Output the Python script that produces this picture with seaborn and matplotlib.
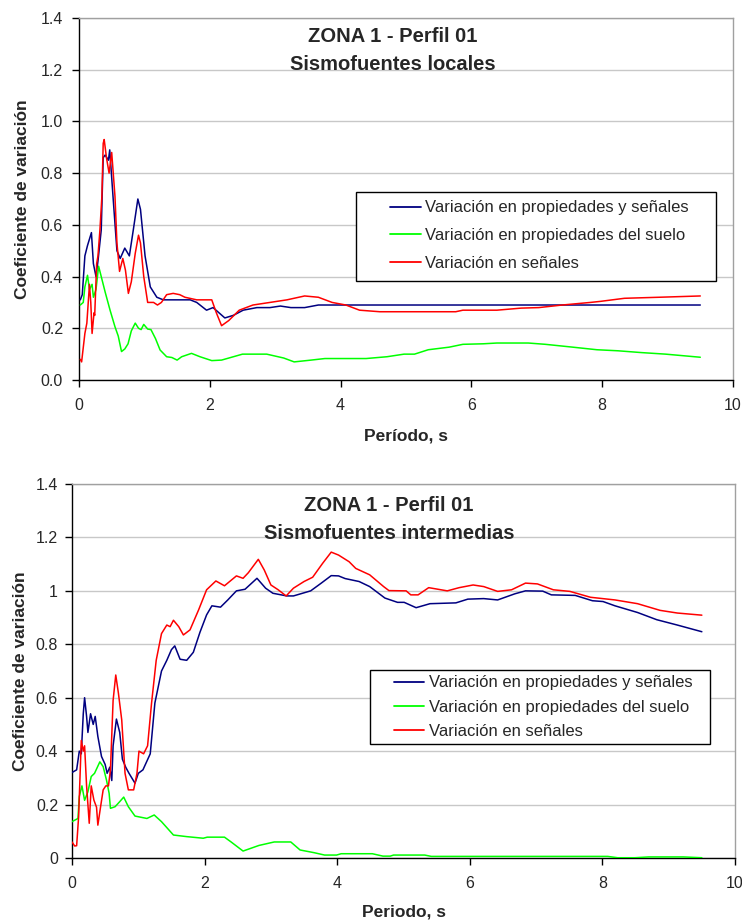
import numpy as np
import pandas as pd
import matplotlib
matplotlib.use("Agg")
import matplotlib.pyplot as plt
from matplotlib.patches import Rectangle
import seaborn as sns

# ---------------- data: top chart (Sismofuentes locales) ----------------
top_blue_t = [0.02, 0.05, 0.09, 0.13, 0.19, 0.22, 0.26, 0.29, 0.34, 0.37, 0.40, 0.45, 0.47, 0.52,
              0.58, 0.63, 0.70, 0.77, 0.83, 0.90, 0.94, 1.01, 1.09, 1.19, 1.29, 1.49, 1.70, 1.80,
              1.90, 1.95, 2.05, 2.23, 2.36, 2.51, 2.72, 2.92, 3.08, 3.24, 3.45, 3.66, 9.5]
top_blue_v = [0.31, 0.33, 0.48, 0.52, 0.57, 0.45, 0.40, 0.46, 0.58, 0.86, 0.87, 0.85, 0.89, 0.71,
              0.50, 0.47, 0.51, 0.48, 0.58, 0.70, 0.66, 0.48, 0.36, 0.32, 0.31, 0.31, 0.31, 0.30,
              0.28, 0.27, 0.28, 0.24, 0.25, 0.27, 0.28, 0.28, 0.286, 0.28, 0.28, 0.29, 0.29]

top_green_t = [0.02, 0.065, 0.09, 0.13, 0.16, 0.20, 0.22, 0.26, 0.30, 0.35, 0.40, 0.475, 0.55, 0.60,
               0.65, 0.70, 0.75, 0.80, 0.86, 0.91, 0.95, 0.99, 1.05, 1.10, 1.17, 1.24, 1.34, 1.42,
               1.50, 1.57, 1.72, 1.85, 2.03, 2.18, 2.50, 2.87, 3.13, 3.29, 3.55, 3.76, 4.39, 4.71,
               4.97, 5.13, 5.34, 5.66, 5.87, 6.18, 6.39, 6.87, 7.13, 7.55, 7.92, 8.24, 8.6, 8.97, 9.5]
top_green_v = [0.29, 0.30, 0.36, 0.405, 0.35, 0.37, 0.32, 0.35, 0.44, 0.39, 0.34, 0.27, 0.206, 0.17,
               0.11, 0.12, 0.14, 0.19, 0.22, 0.20, 0.195, 0.215, 0.197, 0.195, 0.16, 0.116, 0.09, 0.087,
               0.077, 0.09, 0.103, 0.09, 0.075, 0.077, 0.10, 0.10, 0.085, 0.07, 0.077, 0.083, 0.083, 0.09,
               0.10, 0.10, 0.117, 0.127, 0.138, 0.14, 0.143, 0.143, 0.138, 0.127, 0.117, 0.113, 0.106, 0.10, 0.088]

top_red_t = [0.02, 0.04, 0.09, 0.12, 0.16, 0.18, 0.20, 0.23, 0.24, 0.27, 0.29, 0.32, 0.35, 0.37,
             0.385, 0.42, 0.46, 0.50, 0.55, 0.58, 0.62, 0.67, 0.71, 0.755, 0.80, 0.86, 0.91, 0.94,
             0.99, 1.05, 1.14, 1.20, 1.26, 1.34, 1.44, 1.54, 1.62, 1.80, 2.03, 2.10, 2.18, 2.29,
             2.45, 2.66, 2.92, 3.18, 3.45, 3.66, 3.87, 4.08, 4.29, 4.6, 5.76, 5.87, 6.39, 6.76,
             7.03, 7.39, 7.82, 7.97, 8.34, 8.87, 9.5]
top_red_v = [0.08, 0.07, 0.18, 0.22, 0.37, 0.30, 0.18, 0.26, 0.25, 0.45, 0.48, 0.58, 0.71, 0.915,
             0.93, 0.86, 0.80, 0.88, 0.71, 0.53, 0.42, 0.47, 0.425, 0.335, 0.38, 0.49, 0.56, 0.53,
             0.40, 0.30, 0.30, 0.29, 0.30, 0.33, 0.335, 0.33, 0.32, 0.31, 0.31, 0.26, 0.21, 0.23,
             0.27, 0.29, 0.30, 0.31, 0.325, 0.32, 0.30, 0.29, 0.27, 0.264, 0.264, 0.27, 0.27, 0.278,
             0.28, 0.29, 0.30, 0.304, 0.316, 0.32, 0.325]

# ---------------- data: bottom chart (Sismofuentes intermedias) ----------------
bot_blue_t = [0.0, 0.07, 0.11, 0.14, 0.17, 0.19, 0.22, 0.24, 0.28, 0.32, 0.35, 0.39, 0.445, 0.50,
              0.53, 0.57, 0.60, 0.62, 0.67, 0.72, 0.76, 0.81, 0.86, 0.95, 1.00, 1.07, 1.18, 1.25,
              1.35, 1.43, 1.50, 1.55, 1.63, 1.73, 1.83, 1.93, 2.03, 2.11, 2.24, 2.35, 2.48, 2.61,
              2.79, 2.92, 3.03, 3.24, 3.34, 3.6, 3.76, 3.91, 4.02, 4.12, 4.33, 4.49, 4.72, 4.91,
              5.01, 5.19, 5.4, 5.79, 5.97, 6.21, 6.42, 6.68, 6.84, 7.1, 7.23, 7.59, 7.85, 8.01,
              8.19, 8.53, 8.82, 9.13, 9.5]
bot_blue_v = [0.32, 0.33, 0.40, 0.39, 0.54, 0.60, 0.53, 0.47, 0.54, 0.50, 0.53, 0.455, 0.38, 0.35,
              0.317, 0.34, 0.29, 0.42, 0.52, 0.47, 0.37, 0.34, 0.317, 0.28, 0.317, 0.33, 0.39, 0.58,
              0.70, 0.74, 0.78, 0.794, 0.744, 0.74, 0.77, 0.845, 0.91, 0.944, 0.939, 0.966, 1.0, 1.006,
              1.047, 1.01, 0.991, 0.981, 0.981, 1.0, 1.029, 1.057, 1.056, 1.046, 1.035, 1.016, 0.973, 0.957,
              0.957, 0.937, 0.952, 0.955, 0.969, 0.971, 0.966, 0.989, 1.0, 0.999, 0.985, 0.983, 0.963, 0.96,
              0.944, 0.919, 0.892, 0.872, 0.847]

bot_green_t = [0.0, 0.09, 0.11, 0.15, 0.19, 0.24, 0.29, 0.34, 0.42, 0.47, 0.52, 0.56, 0.58, 0.65,
               0.72, 0.78, 0.85, 0.95, 1.13, 1.24, 1.35, 1.53, 1.73, 1.98, 2.04, 2.3, 2.4, 2.58,
               2.82, 3.05, 3.3, 3.44, 3.65, 3.81, 3.99, 4.06, 4.53, 4.69, 4.8, 4.85, 5.32, 5.42,
               8.08, 8.23, 8.49, 8.7, 9.22, 9.5]
bot_green_v = [0.136, 0.148, 0.23, 0.27, 0.216, 0.248, 0.305, 0.317, 0.36, 0.342, 0.292, 0.242, 0.186, 0.192,
               0.211, 0.228, 0.192, 0.157, 0.148, 0.161, 0.136, 0.086, 0.08, 0.074, 0.078, 0.078, 0.06, 0.026,
               0.047, 0.06, 0.06, 0.03, 0.02, 0.011, 0.011, 0.016, 0.016, 0.007, 0.007, 0.011, 0.011, 0.006,
               0.006, 0.001, 0.001, 0.004, 0.004, 0.001]

bot_red_t = [0.0, 0.04, 0.07, 0.10, 0.14, 0.17, 0.19, 0.22, 0.26, 0.29, 0.33, 0.37, 0.39, 0.43,
             0.47, 0.51, 0.55, 0.58, 0.62, 0.66, 0.70, 0.75, 0.80, 0.85, 0.93, 0.98, 1.01, 1.08,
             1.14, 1.20, 1.27, 1.35, 1.43, 1.48, 1.53, 1.61, 1.68, 1.78, 1.91, 2.03, 2.17, 2.30,
             2.48, 2.58, 2.66, 2.81, 2.90, 3.0, 3.11, 3.23, 3.34, 3.5, 3.63, 3.78, 3.91, 4.02,
             4.18, 4.28, 4.49, 4.7, 4.78, 5.04, 5.11, 5.22, 5.38, 5.66, 5.84, 6.05, 6.21, 6.42,
             6.63, 6.84, 7.02, 7.26, 7.51, 7.82, 8.19, 8.53, 8.87, 9.13, 9.5]
bot_red_v = [0.06, 0.045, 0.046, 0.155, 0.44, 0.40, 0.42, 0.27, 0.13, 0.27, 0.217, 0.19, 0.123, 0.19,
             0.255, 0.27, 0.27, 0.33, 0.59, 0.685, 0.617, 0.517, 0.317, 0.255, 0.255, 0.317, 0.40, 0.39,
             0.42, 0.58, 0.74, 0.84, 0.872, 0.866, 0.89, 0.866, 0.835, 0.854, 0.929, 1.004, 1.037, 1.019,
             1.056, 1.047, 1.068, 1.118, 1.078, 1.022, 1.004, 0.981, 1.01, 1.035, 1.051, 1.103, 1.145, 1.134,
             1.109, 1.084, 1.06, 1.016, 1.001, 1.0, 0.985, 0.985, 1.012, 1.0, 1.012, 1.022, 1.016, 0.998,
             1.004, 1.029, 1.026, 1.004, 0.998, 0.976, 0.966, 0.952, 0.927, 0.917, 0.909]

series_names = ["Variación en propiedades y señales",
                "Variación en propiedades del suelo",
                "Variación en señales"]
series_colors = ["#000080", "#00ff00", "#ff0000"]
x_ticks = [0, 2, 4, 6, 8, 10]
y_ticks = [0.0, 0.2, 0.4, 0.6, 0.8, 1.0, 1.2, 1.4]
top_ytick_labels = ["0.0", "0.2", "0.4", "0.6", "0.8", "1.0", "1.2", "1.4"]
bot_ytick_labels = ["0", "0.2", "0.4", "0.6", "0.8", "1", "1.2", "1.4"]


def make_df(bt, bv, gt, gv, rt, rv):
    frames = []
    for name, t, v in zip(series_names, [bt, gt, rt], [bv, gv, rv]):
        frames.append(pd.DataFrame({"t": t, "v": v, "serie": name}))
    return pd.concat(frames, ignore_index=True)


df_top = make_df(top_blue_t, top_blue_v, top_green_t, top_green_v, top_red_t, top_red_v)
df_bot = make_df(bot_blue_t, bot_blue_v, bot_green_t, bot_green_v, bot_red_t, bot_red_v)

sns.set_style("white")
plt.rcParams["font.family"] = ["Liberation Sans", "DejaVu Sans"]

fig = plt.figure(figsize=(7.42, 9.21), dpi=100)
ax1 = fig.add_axes([79 / 742, 1 - 380 / 921, 654 / 742, 362 / 921])
ax2 = fig.add_axes([72 / 742, 1 - 858 / 921, 663 / 742, 374 / 921])

palette = dict(zip(series_names, series_colors))


def style_axes(ax, df, title, xlabel, ylabels, ylab_x, xlab_y, title_xy, leg_anchor, rect, lab_sp,
               ytick_pad):
    sns.lineplot(data=df, x="t", y="v", hue="serie", palette=palette, sort=False,
                 estimator=None, linewidth=1.1, ax=ax, legend=True, zorder=3)
    ax.set_xlim(0, 10)
    ax.set_ylim(0, 1.4)
    ax.set_xticks(x_ticks)
    ax.set_xticklabels([str(x) for x in x_ticks])
    ax.set_yticks(y_ticks)
    ax.set_yticklabels(ylabels)
    ax.yaxis.grid(True, color="#c8c8c8", linewidth=1.0, zorder=0)
    ax.xaxis.grid(False)
    ax.set_axisbelow(True)
    for s in ["left", "bottom"]:
        ax.spines[s].set_color("black")
        ax.spines[s].set_linewidth(1.0)
    for s in ["top", "right"]:
        ax.spines[s].set_color("#a0a0a0")
        ax.spines[s].set_linewidth(1.0)
    ax.tick_params(axis="x", direction="out", length=5, width=1, color="black",
                   labelsize=11.5, pad=8, bottom=True)
    ax.tick_params(axis="y", direction="out", length=5, width=1, color="black",
                   labelsize=11.5, pad=ytick_pad, left=True)
    ax.set_xlabel(xlabel, fontsize=12.5, fontweight="bold", va="top")
    ax.xaxis.set_label_coords(0.5, xlab_y)
    ax.set_ylabel("Coeficiente de variación", fontsize=12.5, fontweight="bold")
    ax.yaxis.set_label_coords(ylab_x, 0.5)
    ax.text(title_xy[0], title_xy[1], title, transform=ax.transAxes, ha="center", va="center",
            fontsize=14.5, fontweight="bold", linespacing=1.62)
    # legend box
    ax.add_patch(Rectangle((rect[0], rect[1]), rect[2], rect[3], transform=ax.transAxes,
                           facecolor="white", edgecolor="black", linewidth=1.0, zorder=4))
    handles, labels = ax.get_legend_handles_labels()
    leg = ax.legend(handles, labels, loc="upper left", bbox_to_anchor=leg_anchor,
                    frameon=False, fontsize=12, handlelength=1.85, handletextpad=0.25,
                    labelspacing=lab_sp, borderpad=0, borderaxespad=0)
    leg.set_zorder(5)
    for h in leg.get_lines():
        h.set_linewidth(1.3)


style_axes(ax1, df_top, "ZONA 1 - Perfil 01\nSismofuentes locales", "Período, s",
           top_ytick_labels, -0.075, -0.1326, (0.48, 0.911), (0.476, 0.496),
           (0.4235, 0.2735, 0.550, 0.246), 0.77, 6.5)
style_axes(ax2, df_bot, "ZONA 1 - Perfil 01\nSismofuentes intermedias", "Periodo, s",
           bot_ytick_labels, -0.0665, -0.125, (0.478, 0.905), (0.485, 0.488),
           (0.449, 0.305, 0.514, 0.198), 0.55, 5)

fig.savefig("out.png", dpi=100)
